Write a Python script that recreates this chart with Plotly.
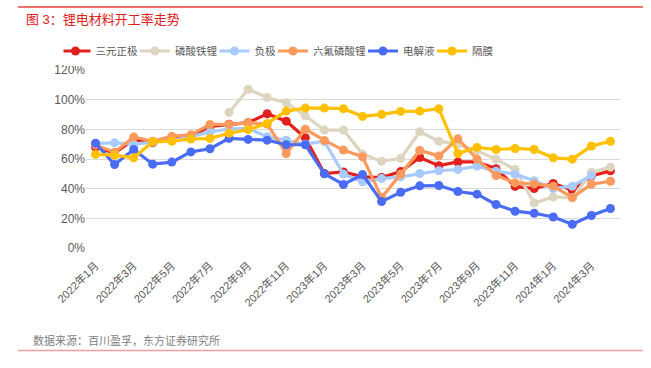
import plotly.graph_objects as go

months = ["2022年1月","2022年2月","2022年3月","2022年4月","2022年5月","2022年6月","2022年7月",
          "2022年8月","2022年9月","2022年10月","2022年11月","2022年12月",
          "2023年1月","2023年2月","2023年3月","2023年4月","2023年5月","2023年6月","2023年7月",
          "2023年8月","2023年9月","2023年10月","2023年11月","2023年12月",
          "2024年1月","2024年2月","2024年3月","2024年4月"]

ncm = [68, 64, 73, 71, 74, 75, 82, 83.5, 84.5, 90.5, 85.5, 74.3, 50.2, 51.3, 48, 47.5, 51.5, 61, 55.5, 58, 58, 53.5, 41.5, 40.1, 43.5, 39, 48.5, 52]
lfp = [None]*7 + [91.4, 107, 101.5, 97.9, 89.1, 79.5, 79.5, 63.3, 58.5, 60.4, 78.3, 72, 70, 65.5, 59.9, 52.9, 30.3, 34.4, 33.8, 51, 54.5]
anode = [70.5, 70.9, 70, 71.5, 72.5, 75, 78.3, 80.2, 80.6, 75, 72.7, 70, 72, 49.8, 44.6, 46.8, 48, 50.2, 52.1, 52.9, 55.2, 51.8, 49.8, 45.3, 40.1, 41.7, 48.9, None]
lipf6 = [69.5, 64.6, 74.9, 72, 75.4, 76.3, 83.3, 83.3, 84.4, 83.5, 63.7, 80.1, 72.5, 66, 61.5, 34, 49.8, 65.8, 62.1, 73.6, 59.9, 48.9, 43.9, 43.2, 41.7, 34, 43, 45]
electrolyte = [70.7, 56.3, 66.4, 56.5, 57.9, 64.8, 66.9, 73.9, 73.2, 72.7, 69.6, 69.6, 50, 42.8, 49.5, 31.3, 37.6, 41.9, 42.1, 38.1, 36.3, 29.3, 24.8, 23.4, 20.9, 16, 21.9, 26.6]
separator = [63.1, 62.6, 60.8, 71.6, 72, 73.4, 73.9, 77.4, 79.8, 84, 92.3, 94.3, 94.3, 93.9, 88.7, 90.1, 92.1, 92.3, 93.9, 63.7, 67.8, 66.4, 67.1, 66.4, 60.8, 59.9, 68.7, 72]

series_names = ["三元正极", "磷酸铁锂", "负极", "六氟磷酸锂", "电解液", "隔膜"]
series_values = [ncm, lfp, anode, lipf6, electrolyte, separator]
series_colors = ["#e2201c", "#ddd5bf", "#a9cbfc", "#fb9a5c", "#4a6cf5", "#ffc000"]

tick_labels = months[::2]
y_ticks = [0, 20, 40, 60, 80, 100, 120]
y_tick_text = [f"{v}%" for v in y_ticks]

FONT = "Liberation Sans, Arial, Noto Sans CJK SC, sans-serif"

fig = go.Figure()
for name, vals, col in zip(series_names, series_values, series_colors):
    fig.add_trace(go.Scatter(
        x=months, y=vals, name=name, mode="lines+markers",
        line=dict(color=col, width=3.2),
        marker=dict(color=col, size=9),
        connectgaps=False,
    ))

fig.update_layout(
    width=651, height=368,
    margin=dict(l=86, r=31, t=70, b=120, autoexpand=False),
    plot_bgcolor="white", paper_bgcolor="white",
    font=dict(family=FONT, color="#595959", size=12),
    title=dict(text="图 3：锂电材料开工率走势", x=26/651, xanchor="left", xref="container",
               y=1-19/368, yanchor="middle", yref="container",
               font=dict(family=FONT, size=13, color="#e2201c")),
    legend=dict(orientation="h", xref="container", yref="container",
                x=281/651, xanchor="center", y=1-51/368, yanchor="middle",
                font=dict(size=10.5, color="#595959"), itemwidth=30, tracegroupgap=0,
                indentation=-8),
    showlegend=True,
)
fig.update_xaxes(type="category", tickmode="array", tickvals=tick_labels, ticktext=tick_labels,
                 tickangle=-45, showgrid=False, showline=False, ticks="", automargin=False,
                 ticklabelstandoff=8,
                 tickfont=dict(size=11, color="#595959"), range=[-0.5, 27.5])
fig.update_yaxes(range=[0, 120], tickmode="array", tickvals=y_ticks, ticktext=y_tick_text,
                 showgrid=True, automargin=False,
                 gridcolor="#d9d9d9", gridwidth=1, zeroline=False, showline=False,
                 tickfont=dict(size=12, color="#595959"))

fig.add_shape(type="line", xref="paper", yref="paper", x0=(18-86)/534, x1=(643-86)/534,
              y0=(247.7-7)/177.7, y1=(247.7-7)/177.7, line=dict(color="#e8453c", width=1.5))
fig.add_shape(type="line", xref="paper", yref="paper", x0=(18-86)/534, x1=(643-86)/534,
              y0=(247.7-350)/177.7, y1=(247.7-350)/177.7, line=dict(color="#f0a0a0", width=1.5))
fig.add_annotation(text="数据来源：百川盈孚，东方证券研究所", xref="paper", yref="paper",
                   x=(31-86)/534, xanchor="left", y=(247.7-340)/177.7, yanchor="middle",
                   showarrow=False, font=dict(size=11, color="#808080", family=FONT))

fig.write_html("out.html", config={"displayModeBar": False},
               post_script="document.body.style.margin='0';document.body.style.padding='0';")
